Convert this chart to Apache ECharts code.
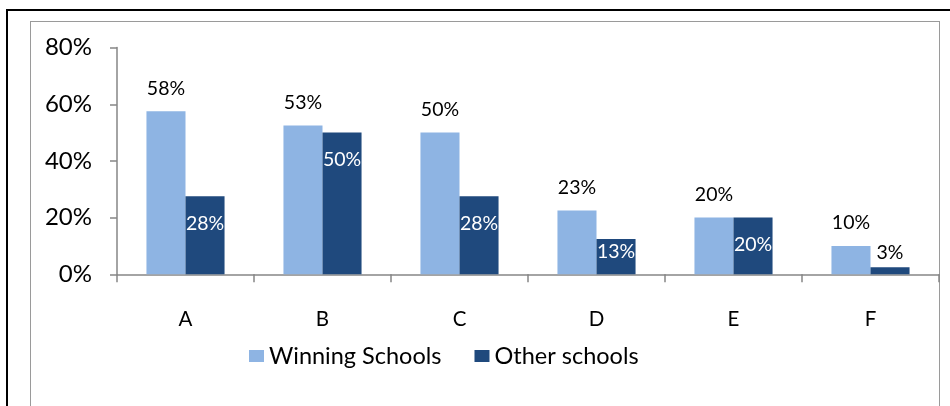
<!DOCTYPE html>
<html>
<head>
<meta charset="utf-8">
<script src="https://cdn.jsdelivr.net/npm/echarts@6/dist/echarts.min.js"></script>
<style>
html,body{margin:0;padding:0;background:#fff;}
#wrap{position:relative;width:950px;height:406px;overflow:hidden;}
#outer{position:absolute;left:6px;top:9px;width:960px;height:420px;border-left:2px solid #000;border-top:2px solid #000;box-sizing:border-box;}
#inner{position:absolute;left:30px;top:21px;width:910px;height:420px;border-left:1px solid #9a9a9a;border-top:1px solid #9a9a9a;border-right:1px solid #9a9a9a;box-sizing:border-box;}
#chart{position:absolute;left:0;top:0;width:950px;height:406px;}
</style>
</head>
<body>
<div id="wrap">
<div id="outer"></div>
<div id="inner"></div>
<div id="chart"></div>
</div>
<script>
const categories = ['A', 'B', 'C', 'D', 'E', 'F'];
const winningSchools = [57.5, 52.5, 50, 22.5, 20, 10];
const otherSchools = [27.5, 50, 27.5, 12.5, 20, 2.5];
const yTicks = [0, 20, 40, 60, 80];

const FONT = 'Lato';
const pct = v => Math.round(v) + '%';

const otherData = otherSchools.map(v => {
  let label;
  if (v < 5) {
    label = { position: 'top', distance: 4, color: '#000' };
  } else if (v < 15) {
    label = { position: 'insideTop', distance: 3, color: '#fff' };
  } else {
    label = { position: 'insideTop', distance: 17, color: '#fff' };
  }
  return { value: v, label: label };
});

const chart = echarts.init(document.getElementById('chart'), null, { renderer: 'canvas' });
chart.setOption({
  animation: false,
  backgroundColor: 'transparent',
  textStyle: { fontFamily: FONT },
  grid: { left: 117, right: 11, top: 47.6, bottom: 131.7, containLabel: false },
  legend: {
    left: 244, top: 339,
    itemWidth: 15, itemHeight: 12, itemGap: 33,
    icon: 'rect',
    textStyle: { fontFamily: FONT, fontSize: 23.5, color: '#000' },
    data: ['Winning Schools', 'Other schools']
  },
  xAxis: {
    type: 'category',
    data: categories,
    axisLine: { show: true, lineStyle: { color: '#868686', width: 1.5 } },
    axisTick: { show: true, length: 8, lineStyle: { color: '#868686', width: 1.5 } },
    axisLabel: { fontFamily: FONT, fontSize: 20.5, color: '#000', margin: 35 }
  },
  yAxis: {
    type: 'value',
    min: yTicks[0], max: yTicks[yTicks.length - 1], interval: 20,
    axisLine: { show: true, lineStyle: { color: '#868686', width: 1.5 } },
    axisTick: { show: true, length: 7, lineStyle: { color: '#868686', width: 1.5 } },
    splitLine: { show: false },
    axisLabel: { fontFamily: FONT, fontSize: 24, color: '#000', margin: 25, formatter: v => v + '%' }
  },
  series: [
    {
      name: 'Winning Schools', type: 'bar',
      data: winningSchools,
      barGap: '0%', barCategoryGap: '43%',
      itemStyle: { color: '#8EB4E3' },
      label: { show: true, position: 'top', distance: 13, color: '#000', fontFamily: FONT, fontSize: 19.5, formatter: p => pct(p.value) }
    },
    {
      name: 'Other schools', type: 'bar',
      data: otherData,
      barGap: '0%', barCategoryGap: '43%',
      itemStyle: { color: '#1F497D' },
      label: { show: true, fontFamily: FONT, fontSize: 19.5, formatter: p => pct(p.value) }
    }
  ]
});
</script>
</body>
</html>
